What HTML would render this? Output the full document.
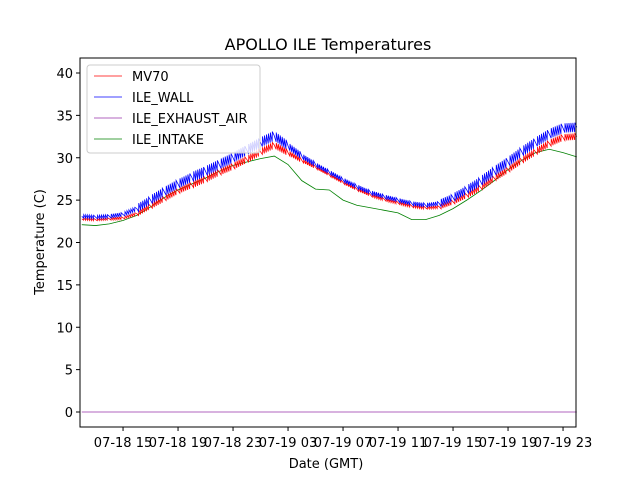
<!DOCTYPE html>
<html><head><meta charset="utf-8"><style>
body{margin:0;background:#fff}
svg text{font-family:"DejaVu Sans","Liberation Sans",sans-serif}
</style></head><body>
<svg id="chart" width="640" height="480" xmlns="http://www.w3.org/2000/svg">
<rect width="640" height="480" fill="#fff"/>
<text x="328" y="50" font-size="16" text-anchor="middle">APOLLO ILE Temperatures</text>
<g id="plot"></g>
<rect x="80" y="58" width="496" height="369" fill="none" stroke="#000" stroke-width="1"/>
<g id="axes"></g>
<text x="326" y="468" font-size="13" text-anchor="middle">Date (GMT)</text>
<text transform="translate(44,242) rotate(-90)" font-size="13" text-anchor="middle">Temperature (C)</text>
<g>
<rect x="87" y="65" width="173" height="88" rx="3" fill="#fff" fill-opacity="0.8" stroke="#ccc"/>
<line x1="94" y1="76" x2="122" y2="76" stroke="red" stroke-width="0.8"/><text x="132" y="81" font-size="13">MV70</text>
<line x1="94" y1="97" x2="122" y2="97" stroke="blue" stroke-width="0.8"/><text x="132" y="102" font-size="13">ILE_WALL</text>
<line x1="94" y1="118" x2="122" y2="118" stroke="#9933aa" stroke-width="0.8"/><text x="132" y="123" font-size="13">ILE_EXHAUST_AIR</text>
<line x1="94" y1="139" x2="122" y2="139" stroke="green" stroke-width="0.8"/><text x="132" y="144" font-size="13">ILE_INTAKE</text>
</g>
</svg>
<script>
const hours=[12,13,14,15,16,17,18,19,20,21,22,23,24,25,26,27,28,29,30,31,32,33,34,35,36,37,38,39,40,41,42,43,44,45,46,47,48];
const wall=[23.1,23.0,23.1,23.3,24.0,25.0,26.0,26.9,27.7,28.4,29.2,30.0,30.9,31.8,32.6,31.4,30.2,29.2,28.3,27.4,26.6,25.9,25.4,25.0,24.6,24.4,24.6,25.3,26.2,27.2,28.4,29.5,30.7,31.8,32.8,33.5,33.6];
const mv70=[22.8,22.7,22.8,22.9,23.4,24.3,25.2,26.1,26.8,27.5,28.3,29.0,29.8,30.7,31.5,30.6,29.7,28.9,28.0,27.1,26.3,25.6,25.1,24.7,24.3,24.1,24.2,24.8,25.6,26.5,27.6,28.6,29.7,30.7,31.7,32.4,32.5];
const intake=[22.1,22.0,22.2,22.6,23.2,24.2,25.3,26.2,26.9,27.6,28.4,29.1,29.5,29.9,30.2,29.2,27.3,26.3,26.2,25.0,24.4,24.1,23.8,23.5,22.7,22.7,23.2,24.0,25.0,26.1,27.3,28.6,29.7,30.6,31.0,30.6,30.1];
const exhaust=[0,0,0,0,0,0,0,0,0,0,0,0,0,0,0,0,0,0,0,0,0,0,0,0,0,0,0,0,0,0,0,0,0,0,0,0,0];
const ripple=[0.4,0.4,0.5,0.5,1.0,1.1,1.1,1.1,1.2,1.2,1.2,1.2,1.2,1.2,1.1,0.8,0.6,0.5,0.5,0.5,0.5,0.5,0.5,0.5,0.5,0.5,0.9,1.0,1.1,1.2,1.2,1.2,1.2,1.2,1.2,1.1,1.0];
const yTicks=[0,5,10,15,20,25,30,35,40];
const xTickHours=[15,19,23,27,31,35,39,43,47];
const xTickLabels=["07-18 15","07-18 19","07-18 23","07-19 03","07-19 07","07-19 11","07-19 15","07-19 19","07-19 23"];
const NS="http://www.w3.org/2000/svg";
const xs=h=>80+(h-11.87)*13.75;
const ys=v=>412-v*8.475;
const plot=document.getElementById('plot'),axes=document.getElementById('axes');
function line(vals,color,name,amp){
  let pts=[];
  const n=7;
  for(let i=0;i<hours.length;i++){
    if(i>0&&amp){
      for(let k=1;k<n;k++){
        const t=k/n,h=hours[i-1]+t,v=vals[i-1]+(vals[i]-vals[i-1])*t;
        const a=ripple[i-1]*amp;
        pts.push(xs(h-0.01)+','+ys(v-a/2));
        pts.push(xs(h)+','+ys(v+a/2));
      }
    }
    pts.push(xs(hours[i])+','+ys(vals[i]));
  }
  const p=document.createElementNS(NS,'polyline');
  p.setAttribute('points',pts.join(' '));
  p.setAttribute('fill','none');p.setAttribute('stroke',color);p.setAttribute('stroke-width','0.8');
  
  
  plot.appendChild(p);
}
line(intake,'green','ile-intake-line',0);
line(mv70,'red','mv70-line',0.7);
line(wall,'blue','ile-wall-line',1);
line(exhaust,'#9933aa','ile-exhaust-air-line',0);
yTicks.forEach(v=>{
  const y=ys(v);
  const t=document.createElementNS(NS,'line');
  t.setAttribute('x1',76);t.setAttribute('x2',80);t.setAttribute('y1',y);t.setAttribute('y2',y);t.setAttribute('stroke','#000');
  
  
  axes.appendChild(t);
  const l=document.createElementNS(NS,'text');
  l.setAttribute('x',73);l.setAttribute('y',y+5);l.setAttribute('font-size','13');l.setAttribute('text-anchor','end');
  l.textContent=v;
  
  
  axes.appendChild(l);
});
xTickHours.forEach((h,i)=>{
  const x=xs(h);
  const t=document.createElementNS(NS,'line');
  t.setAttribute('x1',x);t.setAttribute('x2',x);t.setAttribute('y1',427);t.setAttribute('y2',431);t.setAttribute('stroke','#000');
  
  
  axes.appendChild(t);
  const l=document.createElementNS(NS,'text');
  l.setAttribute('x',x);l.setAttribute('y',447);l.setAttribute('font-size','13');l.setAttribute('text-anchor','middle');
  l.textContent=xTickLabels[i];
  
  
  axes.appendChild(l);
});
</script>
</body></html>
